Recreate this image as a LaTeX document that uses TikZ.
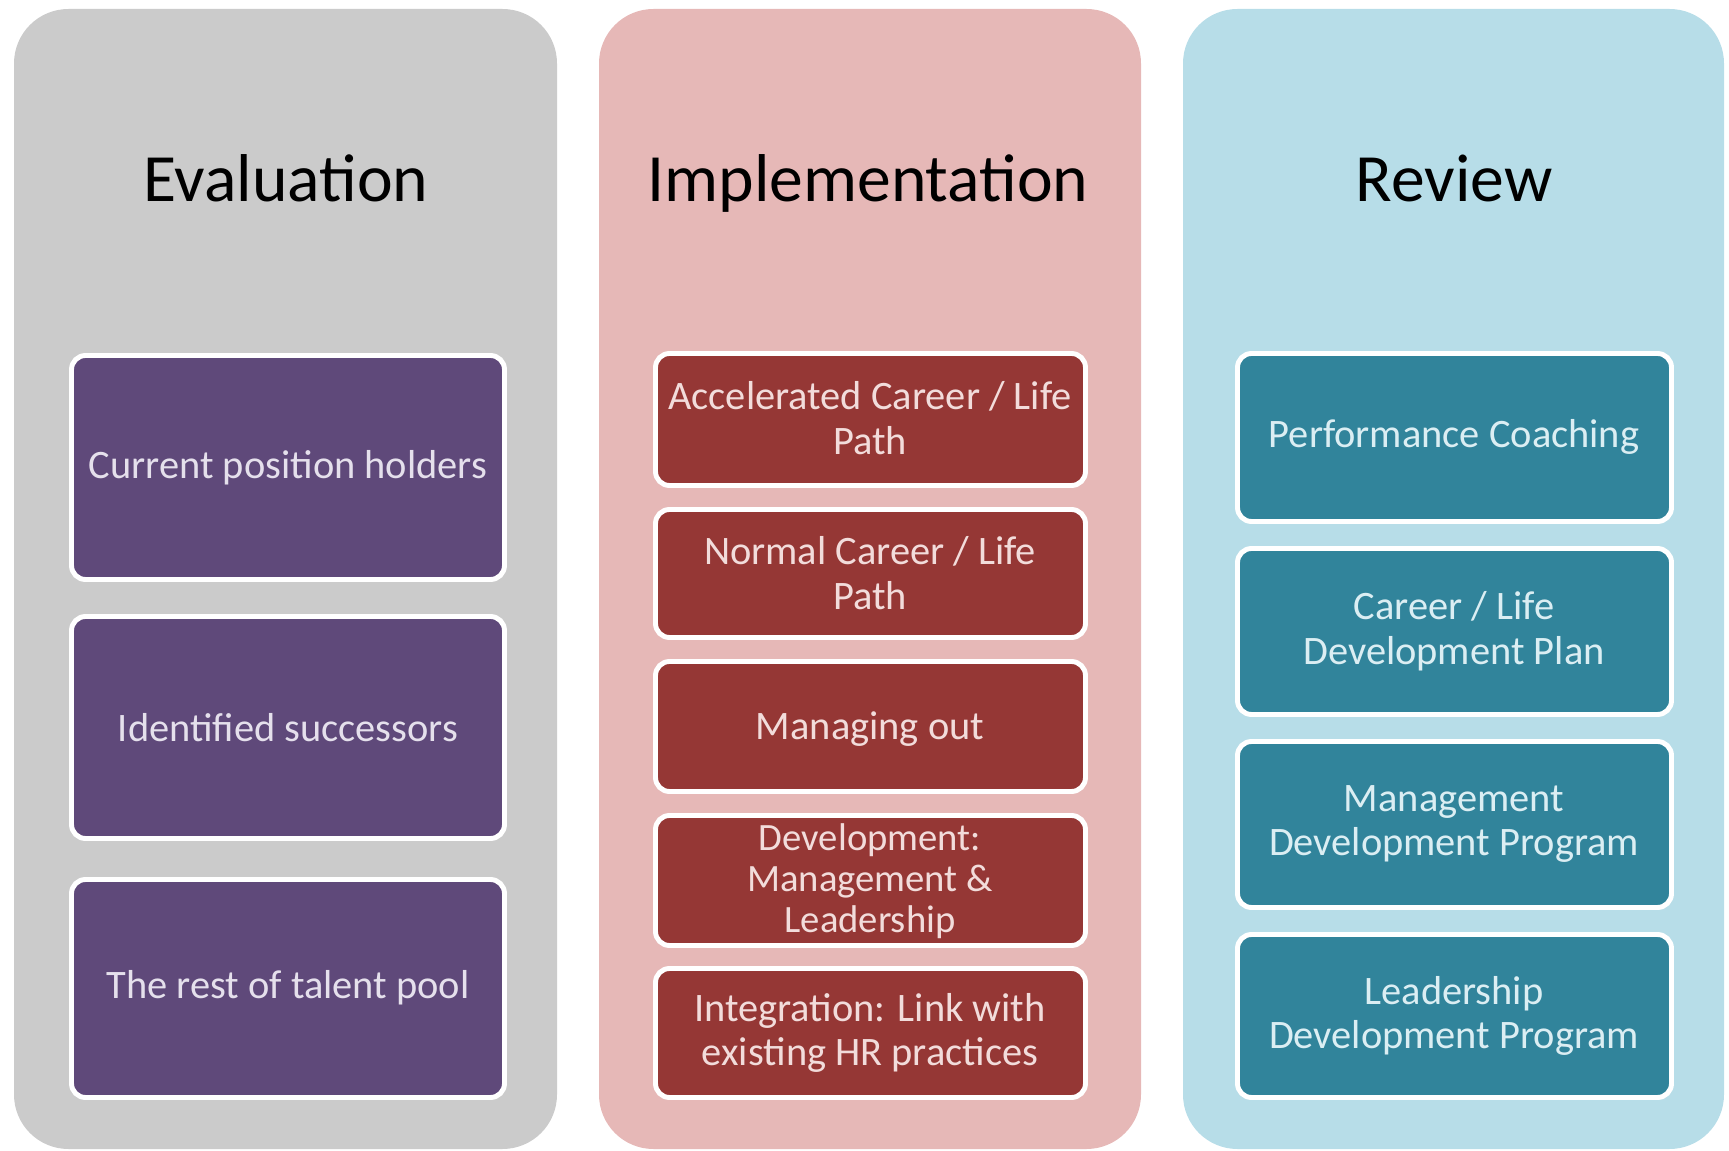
\documentclass[tikz,border=0pt]{standalone}
\usepackage{fontspec}
\setmainfont{Carlito}
\usetikzlibrary{positioning}
\definecolor{evalgray}{HTML}{CBCBCB}
\definecolor{implpink}{HTML}{E6B8B7}
\definecolor{revblue}{HTML}{B7DDE8}
\definecolor{evalfill}{HTML}{5F497A}
\definecolor{implfill}{HTML}{953735}
\definecolor{revfill}{HTML}{31849B}
\definecolor{evaltext}{HTML}{E5E0EC}
\definecolor{impltext}{HTML}{F2DCDB}
\definecolor{revtext}{HTML}{DBEEF3}
\tikzset{
	panel/.style={rounded corners=31pt, fill=#1}
}
\tikzset{
	itembox/.style={rounded corners=8pt, draw=white, line width=2.8pt, fill=#1}
}
\tikzset{
	titletext/.style={font=\fontsize{38.5}{44}\selectfont, anchor=base},
	itemtext/.style={font=\fontsize{23}{25.5}\selectfont, text=#1, align=center}
}

\begin{document}
\begin{tikzpicture}[x=0.02cm, y=-0.02cm]
      \useasboundingbox (0,0) rectangle (1729,1151);
      % columns
      \fill[panel=evalgray] (14,9) rectangle (557,1149);
      \fill[panel=implpink] (599,9) rectangle (1141,1149);
      \fill[panel=revblue] (1183,9) rectangle (1724,1149);
      \node[titletext] (evaltitle) at (286,202) {Evaluation};
      \node[titletext] (impltitle) at (868,202) {Implementation};
      \node[titletext] (revtitle) at (1454,202) {Review};
      % evaluation
      \draw[itembox=evalfill] (71.5,355.5) rectangle (504.5,579.5);
      \node[itemtext=evaltext] (holders) at (288,468) {Current position holders};
      \draw[itembox=evalfill] (71.5,616.5) rectangle (504.5,838.5);
      \node[itemtext=evaltext] (successors) at (288,728) {Identified successors};
      \draw[itembox=evalfill] (71.5,879.5) rectangle (504.5,1097.5);
      \node[itemtext=evaltext] (talentpool) at (288,988) {The rest of talent pool};
      % implementation
      \draw[itembox=implfill] (655.5,353.5) rectangle (1085.5,485.5);
      \node[itemtext=impltext] (accel) at (870,418) {Accelerated Career / Life\\Path};
      \draw[itembox=implfill] (655.5,509.5) rectangle (1085.5,637.5);
      \node[itemtext=impltext] (normal) at (870,573) {Normal Career / Life\\Path};
      \draw[itembox=implfill] (655.5,661.5) rectangle (1085.5,791.5);
      \node[itemtext=impltext] (managing) at (870,729) {Managing out};
      \draw[itembox=implfill] (655.5,815.5) rectangle (1085.5,945.5);
      \node[itemtext=impltext, font=\fontsize{22}{23.5}\selectfont] (develop) at (870,881) {Development:\\Management \&\\Leadership};
      \draw[itembox=implfill] (655.5,968.5) rectangle (1085.5,1097.5);
      \node[itemtext=impltext] (integr) at (870,1033) {Integration: Link with\\existing HR practices};
      % review
      \draw[itembox=revfill] (1237.5,353.5) rectangle (1671.5,521.5);
      \node[itemtext=revtext] (coaching) at (1454,437) {Performance Coaching};
      \draw[itembox=revfill] (1237.5,548.5) rectangle (1671.5,714.5);
      \node[itemtext=revtext] (devplan) at (1454,631) {Career / Life\\Development Plan};
      \draw[itembox=revfill] (1237.5,741.5) rectangle (1671.5,907.5);
      \node[itemtext=revtext] (mgmtprog) at (1454,824) {Management\\Development Program};
      \draw[itembox=revfill] (1237.5,934.5) rectangle (1671.5,1097.5);
      \node[itemtext=revtext] (leadprog) at (1454,1016) {Leadership\\Development Program};
\end{tikzpicture}
\end{document}
